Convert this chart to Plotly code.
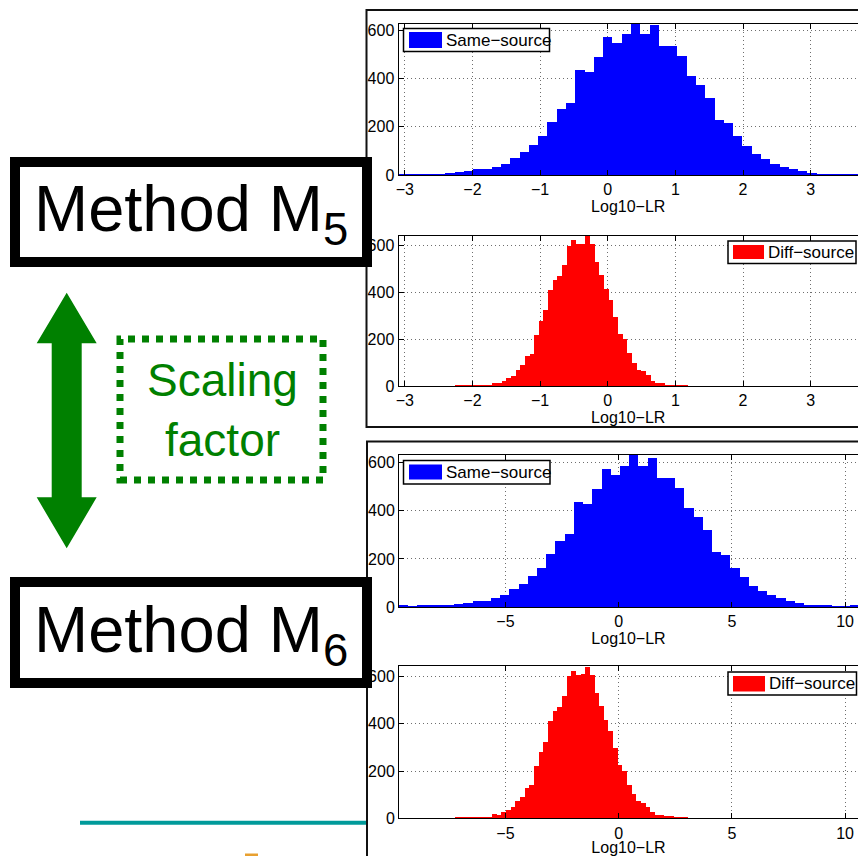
import plotly.graph_objects as go

# ---------------- data ----------------
same_counts = [5, 4, 5, 8, 5, 10, 14, 18, 25, 25, 37, 48, 74, 97, 128, 163, 222, 276, 302, 437,
               430, 491, 575, 550, 586, 630, 585, 621, 535, 536, 495, 412, 375, 321, 228, 218, 164, 123, 87, 68,
               48, 37, 25, 18, 10, 7, 7, 4, 4, 5]
diff_counts = [3, 3, 3, 3, 3, 3, 4, 7, 17, 14, 25, 35, 46, 72, 90, 130, 139, 220, 280, 325,
               413, 455, 472, 518, 601, 625, 607, 610, 641, 607, 531, 476, 417, 370, 297, 225, 201, 142, 101, 72,
               66, 48, 25, 14, 13, 8, 8, 3, 3, 3]

# histogram bin layout: [first edge, bin width]
m5_same_bins = [-3.093, 0.1372]
m5_diff_bins = [-2.266, 0.0689]
m6_same_bins = [-9.70, 0.4065]
m6_diff_bins = [-7.23, 0.2055]

m5_xticks = [-3, -2, -1, 0, 1, 2, 3]
m6_xticks = [-5, 0, 5, 10]
yticks = [0, 200, 400, 600]

labels = ["Same\u2212source", "Diff\u2212source"]
xlabel = "Log10\u2212LR"
method_labels = ["Method M<sub>5</sub>", "Method M<sub>6</sub>"]
scaling_lines = ["Scaling", "factor"]

# ---------------- layout helpers ----------------
W, H = 858, 856
FONT = "Liberation Sans, Arial, sans-serif"
BLUE, RED, GREEN = "#0000ff", "#ff0000", "#008000"
GRID = dict(showgrid=True, gridcolor="#6e6e6e", griddash="1px,3px", gridwidth=1)


def px(p):
    return p / W


def py(p):
    return 1 - p / H


def centers(bins, n):
    s, w = bins
    return [s + (i + 0.5) * w for i in range(n)]


fig = go.Figure()

panels = [
    # counts, bins, colour, xaxis range, ticks, y range, pixel box (left, top, bottom), title standoff
    (same_counts, m5_same_bins, BLUE, [-3.093, 3.70], m5_xticks, [0, 627], (398.5, 23.5, 175), 0),
    (diff_counts, m5_diff_bins, RED, [-3.093, 3.70], m5_xticks, [0, 642], (398.5, 235.5, 386), 0),
    (same_counts, m6_same_bins, BLUE, [-9.70, 10.57], m6_xticks, [0, 632], (399, 455, 607), 0),
    (diff_counts, m6_diff_bins, RED, [-9.70, 10.57], m6_xticks, [0, 645], (399, 666, 818.3), 3),
]

layout_axes = {}
for i, (cnts, bins, col, xr, xt, yr, box, stand) in enumerate(panels):
    k = "" if i == 0 else str(i + 1)
    fig.add_trace(go.Bar(
        x=centers(bins, len(cnts)), y=cnts, width=bins[1],
        marker=dict(color=col, line=dict(width=0)),
        xaxis="x" + k, yaxis="y" + k, showlegend=False, hoverinfo="x+y"))
    left, top, bottom = box
    layout_axes["xaxis" + k] = dict(
        domain=[px(left), 1], range=xr, anchor="y" + k,
        tickmode="array", tickvals=xt,
        showline=True, linecolor="black", linewidth=1, mirror="ticks",
        ticks="inside", ticklen=5, tickcolor="black",
        zeroline=False, tickfont=dict(family=FONT, size=16, color="black"),
        title=dict(text=xlabel, font=dict(family=FONT, size=16, color="black"), standoff=stand),
        automargin=False, fixedrange=True, **GRID)
    layout_axes["yaxis" + k] = dict(
        domain=[py(bottom), py(top)], range=yr, anchor="x" + k,
        tickmode="array", tickvals=yticks,
        showline=True, linecolor="black", linewidth=1, mirror=False,
        ticks="inside", ticklen=5, tickcolor="black",
        zeroline=False, tickfont=dict(family=FONT, size=16, color="black"),
        automargin=False, fixedrange=True, **GRID)

shapes = []
annotations = []

# outer frames of the two figure images
shapes.append(dict(type="rect", xref="paper", yref="paper", x0=px(366.5), x1=px(880), y0=py(427), y1=py(10),
                   line=dict(color="#111", width=2), fillcolor="rgba(0,0,0,0)", layer="above"))
shapes.append(dict(type="rect", xref="paper", yref="paper", x0=px(367), x1=px(880), y0=py(900), y1=py(441.5),
                   line=dict(color="#111", width=2), fillcolor="rgba(0,0,0,0)", layer="above"))

# legends (drawn boxes)
legends = [
    # box (x0,y0,x1,y1), patch (x0,y0,x1,y1), colour, label
    ((403.5, 28.5, 549.5, 51.5), (409, 32, 442, 48), BLUE, labels[0]),
    ((728, 241, 856, 263.5), (733, 245, 764, 259), RED, labels[1]),
    ((403.5, 460.5, 550, 484), (409, 464.5, 442, 479.5), BLUE, labels[0]),
    ((728, 672, 856.5, 695), (733, 676, 765, 691.5), RED, labels[1]),
]
for (bx0, by0, bx1, by1), (qx0, qy0, qx1, qy1), col, lab in legends:
    shapes.append(dict(type="rect", xref="paper", yref="paper", x0=px(bx0), x1=px(bx1), y0=py(by1), y1=py(by0),
                       line=dict(color="black", width=1.5), fillcolor="white", layer="above"))
    shapes.append(dict(type="rect", xref="paper", yref="paper", x0=px(qx0), x1=px(qx1), y0=py(qy1), y1=py(qy0),
                       line=dict(width=0), fillcolor=col, layer="above"))
    annotations.append(dict(text=lab, xref="paper", yref="paper", x=px(qx1 + 2), y=py((by0 + by1) / 2),
                            xanchor="left", yanchor="middle", showarrow=False,
                            font=dict(family=FONT, size=17, color="black")))

# Method boxes
for (x0, y0, x1, y1), (tx, ty), lab in [((15, 162, 367, 262), (191, 213), method_labels[0]),
                                         ((15, 582, 367, 683), (191, 634), method_labels[1])]:
    shapes.append(dict(type="rect", xref="paper", yref="paper", x0=px(x0), x1=px(x1), y0=py(y1), y1=py(y0),
                       line=dict(color="black", width=10), fillcolor="white", layer="above"))
    annotations.append(dict(text=lab, xref="paper", yref="paper", x=px(tx), y=py(ty),
                            xanchor="center", yanchor="middle", showarrow=False,
                            font=dict(family=FONT, size=65, color="black")))

# double-headed green arrow
pts = [(66.7, 292.7), (96.7, 343.3), (81.7, 343.3), (81.7, 497.3), (96.7, 497.3), (66.7, 548.3),
       (36.7, 497.3), (51.7, 497.3), (51.7, 343.3), (36.7, 343.3)]
path = "M " + " L ".join(f"{px(a):.5f},{py(b):.5f}" for a, b in pts) + " Z"
shapes.append(dict(type="path", xref="paper", yref="paper", path=path,
                   fillcolor=GREEN, line=dict(width=0), layer="above"))

# dotted green box with "Scaling factor"
shapes.append(dict(type="rect", xref="paper", yref="paper", x0=px(120), x1=px(323), y0=py(480), y1=py(339),
                   line=dict(color=GREEN, width=7, dash="dot"), fillcolor="rgba(0,0,0,0)", layer="above"))
for txt, ty in zip(scaling_lines, [380, 440]):
    annotations.append(dict(text=txt, xref="paper", yref="paper", x=px(222), y=py(ty),
                            xanchor="center", yanchor="middle", showarrow=False,
                            font=dict(family=FONT, size=46, color=GREEN)))

# slide decorations at the bottom
shapes.append(dict(type="line", xref="paper", yref="paper", x0=px(80), x1=px(366), y0=py(822.7), y1=py(822.7),
                   line=dict(color="#009a9a", width=4), layer="above"))
shapes.append(dict(type="rect", xref="paper", yref="paper", x0=px(245), x1=px(258), y0=py(857), y1=py(853.5),
                   line=dict(width=0), fillcolor="#e8a030", layer="above"))

fig.update_layout(
    width=W, height=H, margin=dict(l=0, r=0, t=0, b=0),
    paper_bgcolor="white", plot_bgcolor="white",
    bargap=0, barmode="overlay", showlegend=False,
    shapes=shapes, annotations=annotations,
    font=dict(family=FONT, color="black"),
    **layout_axes,
)

fig.write_html("out.html", config={"displayModeBar": False})
